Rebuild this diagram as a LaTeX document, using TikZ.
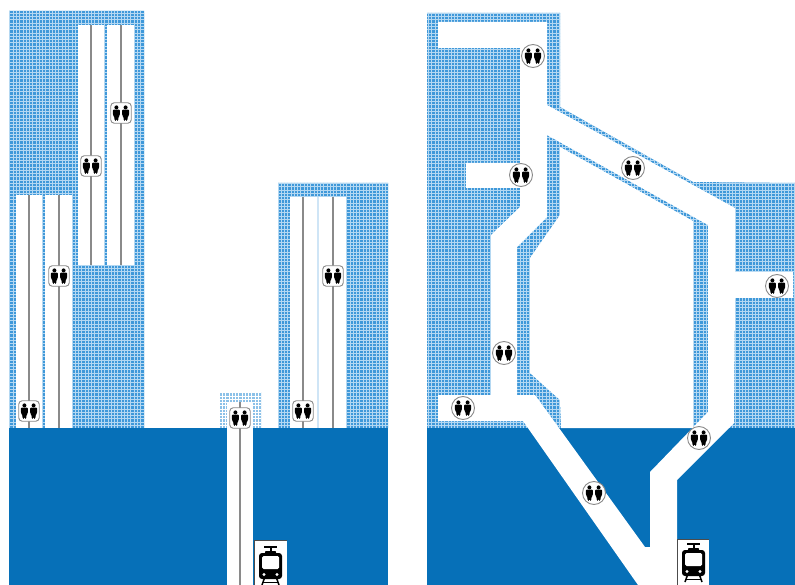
\documentclass[tikz,border=0pt]{standalone}
\definecolor{deepblue}{HTML}{0670B8}
\definecolor{hatchblue}{HTML}{3F98D9}
\definecolor{gridpale}{HTML}{B4D8F2}
\definecolor{lanegrey}{HTML}{8A8A8A}
\tikzset{
  x=1pt,y=-1pt,
  lane/.style={fill=white,draw=none},
  laneline/.style={draw=lanegrey,line width=1.7pt},
  stopsquare/.style={draw=lanegrey,fill=white,line width=.9pt,rounded corners=3.5pt,minimum size=20.5pt,inner sep=0pt},
  stopcircle/.style={draw=lanegrey,fill=white,line width=.9pt,circle,minimum size=23pt,inner sep=0pt},
  person/.pic={
    \fill[black] (0,-5.6) circle (2);
    \fill[black,rounded corners=1pt] (-3.6,-3.4) -- (3.6,-3.4) -- (3.4,2.4) -- (2.2,3.6) -- (1.7,7.8) -- (.25,7.8) -- (0,5) -- (-.25,7.8) -- (-1.7,7.8) -- (-2.2,3.6) -- (-3.4,2.4) -- cycle;
  },
  couple/.pic={
    \pic at (-4.6,0) {person};
    \pic at (4.6,0) {person};
  },
  tram/.pic={
    \draw[black,line width=1.6pt] (-6.5,-18) -- (6.5,-18);
    \fill[black] (-1,-18) rectangle (1,-13);
    \fill[black] (-5,-14) -- (5,-14) -- (6,-11) -- (-6,-11) -- cycle;
    \fill[black,rounded corners=3pt] (-11.5,-12) rectangle (11.5,14);
    \fill[white,rounded corners=1.5pt] (-8.5,-9) rectangle (8.5,4);
    \fill[white] (-6.5,9.5) circle (1.7);
    \fill[white] (6.5,9.5) circle (1.7);
    \draw[black,line width=1.5pt] (-6,13) -- (-8.5,20);
    \draw[black,line width=1.5pt] (6,13) -- (8.5,20);
    \draw[black,line width=1pt] (-7.5,17) -- (7.5,17);
  }
}
\newcommand{\screengrid}[1]{%
  \foreach \i in {0,...,245}{\draw[#1,line width=.75pt] ({\i*3.27},0) -- ({\i*3.27},585);}%
  \foreach \j in {0,...,185}{\draw[#1,line width=.3pt] (0,{\j*3.27}) -- (795,{\j*3.27});}%
}
\begin{document}
\begin{tikzpicture}
\useasboundingbox (0,0) rectangle (795,585);
\fill[white] (0,0) rectangle (795,585);

% ---------- screened areas
\begin{scope}
  \clip (9,11) rectangle (144,428)
        (278,183) rectangle (388,428)
        (427,13) -- (560,13) -- (560,107) -- (693,182) -- (795,183) -- (795,428) -- (427,428) -- cycle;
  \fill[hatchblue] (0,0) rectangle (795,585);
  \screengrid{gridpale}
\end{scope}
\begin{scope}
  \clip (220,392) rectangle (261,428);
  \fill[hatchblue!60] (0,0) rectangle (795,585);
  \screengrid{white}
\end{scope}

% ---------- solid ground
\fill[deepblue] (9,428) rectangle (388,585);
\fill[deepblue] (427,428) rectangle (795,585);

% ---------- left figure: lanes
\fill[lane] (16,195) rectangle (42,428);
\fill[lane] (45,195) rectangle (72,428);
\fill[lane] (78,25) rectangle (104,265);
\fill[lane] (107,25) rectangle (134,265);
\fill[lane] (290,197) rectangle (317,428);
\fill[hatchblue!25] (317,197) rectangle (319,428);
\fill[lane] (319,197) rectangle (346,428);
\fill[lane] (227,402) rectangle (253,585);

\draw[laneline] (29,195) -- (29,428);
\draw[laneline] (59,195) -- (59,428);
\draw[laneline] (91,25) -- (91,265);
\draw[laneline] (121,25) -- (121,265);
\draw[laneline] (303,197) -- (303,428);
\draw[laneline] (333,197) -- (333,428);
\draw[laneline] (240,402) -- (240,585);

\foreach \n/\px/\py in {sa/29/411,sb/59/276,sc/91/166,sd/121/113,se/303/411,sf/333/276,sg/240/418}{
  \node[stopsquare] (\n) at (\px,\py) {};
  \pic at (\n) {couple};
}

% ---------- left tram
\fill[white] (254,540) rectangle (287,585);
\draw[black!70,line width=.5pt] (254,585) -- (254,540) -- (287,540);
\pic at (270.5,565) {tram};

% ---------- right figure: courtyard
\fill[white] (560,147) -- (693,221) -- (693,428) -- (561,428) -- (560,400) -- (530,373) -- (530,258) -- (560,215) -- cycle;

% ---------- right figure: corridors, with the island left open
\fill[white,even odd rule]
  (438,22) -- (547,22) -- (547,105) -- (735,208) -- (735,272) -- (793,272) -- (793,298) -- (735,298) -- (734,423) -- (677,480) -- (677,585) -- (638,585) -- (523,421) -- (438,421) -- (438,395) -- (491,395) -- (491,235) -- (520,207) -- (520,188) -- (466,188) -- (466,163) -- (520,163) -- (520,48) -- (438,48) -- cycle
  (547,135) -- (708,225) -- (708,412) -- (650,472) -- (650,547) -- (645,547) -- (559,428) -- (535,395) -- (517,395) -- (517,247) -- (547,217) -- cycle;

\foreach \n/\px/\py in {ca/533/56,cb/521/175,cc/633/168,cd/504/353,ce/463/408,cf/777/286,cg/594/493,ch/699/438}{
  \node[stopcircle] (\n) at (\px,\py) {};
  \pic at (\n) {couple};
}

% ---------- right tram
\fill[white] (677,539) rectangle (709,585);
\draw[black!70,line width=.5pt] (677,585) -- (677,539) -- (709,539);
\pic at (693.5,562) {tram};
\end{tikzpicture}
\end{document}
